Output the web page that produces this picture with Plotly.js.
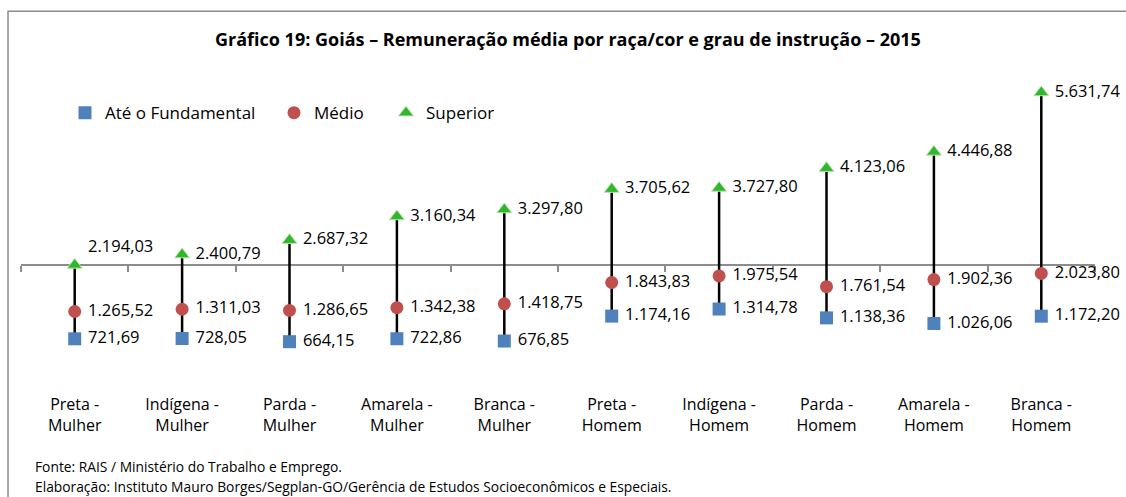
<!DOCTYPE html>
<html>
<head>
<meta charset="utf-8">
<script src="https://cdn.plot.ly/plotly-3.0.1.min.js"></script>
<style>html,body{margin:0;padding:0;background:#fff;}#chart{width:1126px;height:497px;}</style>
</head>
<body>
<div id="chart"></div>
<script>
var categories = ['Preta -<br>Mulher','Indígena -<br>Mulher','Parda -<br>Mulher','Amarela -<br>Mulher','Branca -<br>Mulher',
                  'Preta -<br>Homem','Indígena -<br>Homem','Parda -<br>Homem','Amarela -<br>Homem','Branca -<br>Homem'];
var fundamental = [721.69, 728.05, 664.15, 722.86, 676.85, 1174.16, 1314.78, 1138.36, 1026.06, 1172.20];
var medio       = [1265.52, 1311.03, 1286.65, 1342.38, 1418.75, 1843.83, 1975.54, 1761.54, 1902.36, 2023.80];
var superior    = [2194.03, 2400.79, 2687.32, 3160.34, 3297.80, 3705.62, 3727.80, 4123.06, 4446.88, 5631.74];
var seriesNames = ['Até o Fundamental', 'Médio', 'Superior'];
var axisCross = 2200;
var yMax = 6000;

var FONT = 'Open Sans, Noto Sans, sans-serif';

// category index positions for the marker traces (overlay axis, same range as the category axis)
var idx = categories.map(function(c, i){ return i; });

// high-low lines built from the data, on the category axis (drawn beneath the markers)
var hlX = [], hlY = [];
for (var i = 0; i < categories.length; i++) {
  var lo = Math.min(fundamental[i], medio[i], superior[i]);
  var hi = Math.max(fundamental[i], medio[i], superior[i]);
  hlX.push(categories[i], categories[i], null);
  hlY.push(lo, hi, null);
}

var labelFont = {family: FONT, size: 16.5, color: '#000'};
var tmpl = '\u00a0%{y:,.2f}';

var supPos = superior.map(function(v, i){ return i === 0 ? 'top right' : 'middle right'; });

var traces = [
  {x: hlX, y: hlY, xaxis: 'x', type: 'scatter', mode: 'lines', line: {color: '#000', width: 2.5},
   showlegend: false, hoverinfo: 'skip'},
  {x: idx, y: fundamental, xaxis: 'x2', name: seriesNames[0], legend: 'legend', type: 'scatter', mode: 'markers+text',
   marker: {symbol: 'square', size: 13, color: '#4F81BD'},
   texttemplate: tmpl, textposition: 'middle right', textfont: labelFont, cliponaxis: false},
  {x: idx, y: medio, xaxis: 'x2', name: seriesNames[1], legend: 'legend2', type: 'scatter', mode: 'markers+text',
   marker: {symbol: 'circle', size: 13, color: '#C0504D'},
   texttemplate: tmpl, textposition: 'middle right', textfont: labelFont, cliponaxis: false},
  {x: idx, y: superior, xaxis: 'x2', name: seriesNames[2], legend: 'legend3', type: 'scatter', mode: 'markers+text',
   marker: {symbol: 'triangle-up', size: 13, color: '#2EB82E', line: {color: '#c2e0ad', width: 1}},
   texttemplate: tmpl, textposition: supPos, textfont: labelFont, cliponaxis: false}
];

function legendAt(px) {
  return {orientation: 'h', x: (px - 21) / 1074, y: 0.87, xanchor: 'left', yanchor: 'middle',
          font: {family: FONT, size: 17, color: '#000'}, bgcolor: 'rgba(0,0,0,0)', itemclick: false};
}

var layout = {
  width: 1126, height: 497,
  margin: {l: 21, r: 31, t: 74, b: 122},
  paper_bgcolor: '#fff', plot_bgcolor: 'rgba(0,0,0,0)',
  separators: ',.',
  font: {family: FONT, size: 16, color: '#000'},
  title: {text: '<b>Gráfico 19: Goiás – Remuneração média por raça/cor e grau de instrução – 2015</b>',
          font: {family: FONT, size: 18, color: '#000'},
          xref: 'container', x: 0.5044, xanchor: 'center', yref: 'container', y: 0.92, yanchor: 'middle'},
  showlegend: true,
  legend: legendAt(65),
  legend2: legendAt(274),
  legend3: legendAt(386),
  xaxis: {type: 'category', range: [-0.5, 9.5], showline: false, showgrid: false, zeroline: false,
          ticks: '', tickfont: {family: FONT, size: 16, color: '#000'}, ticklabelstandoff: 18, fixedrange: true},
  xaxis2: {overlaying: 'x', anchor: 'free', position: axisCross / yMax, side: 'bottom', type: 'linear',
           range: [-0.5, 9.5], tickmode: 'linear', tick0: -0.5, dtick: 1, ticks: 'outside', ticklen: 6,
           tickwidth: 2, tickcolor: '#8c8c8c', showline: true, linecolor: '#8c8c8c', linewidth: 2,
           showticklabels: false, showgrid: false, zeroline: false, fixedrange: true, layer: 'below traces'},
  yaxis: {range: [0, yMax], visible: false, showgrid: false, zeroline: false, fixedrange: true},
  shapes: [
    {type: 'rect', xref: 'paper', yref: 'paper', x0: -0.0121, x1: 1.04, y0: -0.42, y1: 1.2086,
     line: {color: '#8c8c8c', width: 1.5}, fillcolor: 'rgba(0,0,0,0)', layer: 'below'}
  ],
  annotations: [
    {xref: 'paper', yref: 'paper', x: 0.0112, y: -0.303, xanchor: 'left', yanchor: 'middle', showarrow: false,
     text: 'Fonte: RAIS / Ministério do Trabalho e Emprego.', font: {family: FONT, size: 13.8, color: '#000'}},
    {xref: 'paper', yref: 'paper', x: 0.0112, y: -0.369, xanchor: 'left', yanchor: 'middle', showarrow: false,
     text: 'Elaboração: Instituto Mauro Borges/Segplan-GO/Gerência de Estudos Socioeconômicos e Especiais.',
     font: {family: FONT, size: 13.8, color: '#000'}}
  ]
};

Plotly.newPlot('chart', traces, layout, {displayModeBar: false, staticPlot: true});
</script>
</body>
</html>
